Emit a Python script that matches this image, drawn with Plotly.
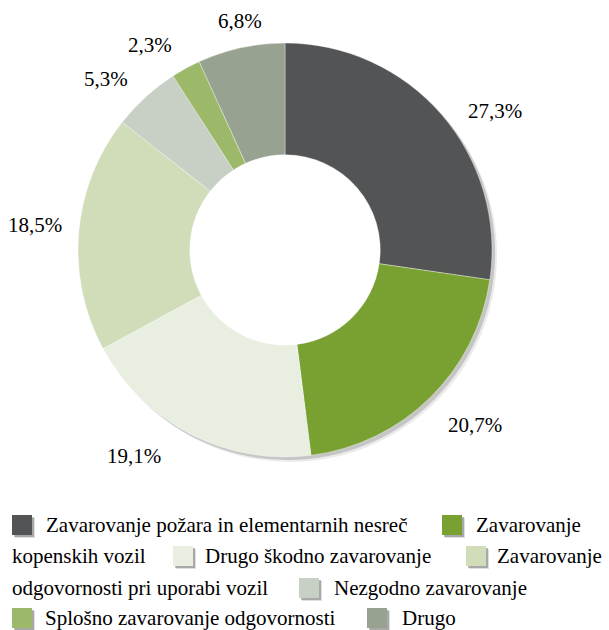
import math
import plotly.graph_objects as go

# ---- data ----
categories = [
    "Zavarovanje požara in elementarnih nesreč",
    "Zavarovanje kopenskih vozil",
    "Drugo škodno zavarovanje",
    "Zavarovanje odgovornosti pri uporabi vozil",
    "Nezgodno zavarovanje",
    "Splošno zavarovanje odgovornosti",
    "Drugo",
]
shares = [27.3, 20.7, 19.1, 18.5, 5.3, 2.3, 6.8]
labels_txt = ["27,3%", "20,7%", "19,1%", "18,5%", "5,3%", "2,3%", "6,8%"]

# ---- style ----
colors = ["#535456", "#79a132", "#e8eee0", "#d1dcb9", "#c8cfc4", "#9cb869", "#98a291"]
W, H = 609, 630
FONT = "Liberation Serif"
CX, CY, R = 285, 250, 207
HOLE = 0.46

def px(x):
    return x / W

def py(y):
    return 1 - y / H

dom_x = [px(CX - R), px(CX + R)]
dom_y = [py(CY + R), py(CY - R)]

fig = go.Figure()

# soft drop shadow under the ring
for off, alpha in [(5, 0.08), (3, 0.16)]:
    fig.add_trace(go.Pie(
        values=[1], labels=["s"], hole=0.78, sort=False,
        marker=dict(colors=[f"rgba(0,0,0,{alpha})"], line=dict(width=0)),
        domain=dict(x=[dom_x[0] + off / W, dom_x[1] + off / W],
                    y=[dom_y[0] - off / H, dom_y[1] - off / H]),
        textinfo="none", hoverinfo="skip", showlegend=False,
    ))

fig.add_trace(go.Pie(
    values=shares, labels=categories, hole=HOLE, sort=False,
    direction="clockwise", rotation=0,
    marker=dict(colors=colors, line=dict(color="rgba(255,255,255,0.6)", width=0.6)),
    domain=dict(x=dom_x, y=dom_y),
    textinfo="none", showlegend=False,
))

# ---- percentage labels (placed around the ring at each slice's mid angle) ----
# small per-label adjustments (angle in degrees, radius in px) to follow the original placement
label_adjust = [(7.4, 252), (-2.9, 258), (9.0, 255), (0.9, 251), (-4.0, 247), (-4.7, 245), (1.2, 233)]
annotations = []
cum = 0.0
total = sum(shares)
for v, t, (da, rr) in zip(shares, labels_txt, label_adjust):
    mid = (cum + v / 2) / total * 360.0
    cum += v
    a = math.radians(mid + da)
    lx = CX + rr * math.sin(a)
    ly = CY - rr * math.cos(a)
    annotations.append(dict(
        x=px(lx), y=py(ly), xref="paper", yref="paper", text=t, showarrow=False,
        xanchor="center", yanchor="middle", font=dict(family=FONT, size=21, color="#000000"),
    ))

# ---- flowing legend (text wraps like the original) ----
def first_word(i):
    return categories[i].split(" ", 1)[0]

def rest_words(i):
    return categories[i].split(" ", 1)[1]

legend_rows = [
    (532, [("sq", 0, 12), ("tx", categories[0], 46), ("sq", 1, 442), ("tx", first_word(1), 476)]),
    (563, [("tx", rest_words(1), 12), ("sq", 2, 173), ("tx", categories[2], 205),
           ("sq", 3, 466), ("tx", first_word(3), 497)]),
    (595, [("tx", rest_words(3), 12), ("sq", 4, 299), ("tx", categories[4], 334)]),
    (625, [("sq", 5, 12), ("tx", categories[5], 45), ("sq", 6, 367), ("tx", categories[6], 402)]),
]

LFS = 21
SQ = 20
shapes = []
for base, items in legend_rows:
    for kind, val, x in items:
        if kind == "sq":
            top = base - 17
            for off, alpha in [(3, 0.12), (2, 0.25)]:
                shapes.append(dict(type="rect", xref="paper", yref="paper",
                                   x0=px(x + off), x1=px(x + SQ + off),
                                   y0=py(top + SQ + off), y1=py(top + off),
                                   fillcolor=f"rgba(0,0,0,{alpha})", line=dict(width=0), layer="above"))
            shapes.append(dict(type="rect", xref="paper", yref="paper",
                               x0=px(x), x1=px(x + SQ), y0=py(top + SQ), y1=py(top),
                               fillcolor=colors[val], line=dict(width=0), layer="above"))
        else:
            annotations.append(dict(
                x=px(x - 2), y=py(base - 0.3375 * LFS), xref="paper", yref="paper",
                text=val, showarrow=False, xanchor="left", yanchor="middle",
                font=dict(family=FONT, size=LFS, color="#000000"),
            ))

fig.update_layout(
    width=W, height=H,
    margin=dict(l=0, r=0, t=0, b=0),
    paper_bgcolor="white", plot_bgcolor="white",
    showlegend=False,
    annotations=annotations,
    shapes=shapes,
    font=dict(family=FONT),
)

fig.write_html("out.html", config={"displayModeBar": False},
               post_script="document.body.style.margin='0';document.body.style.padding='0';")
